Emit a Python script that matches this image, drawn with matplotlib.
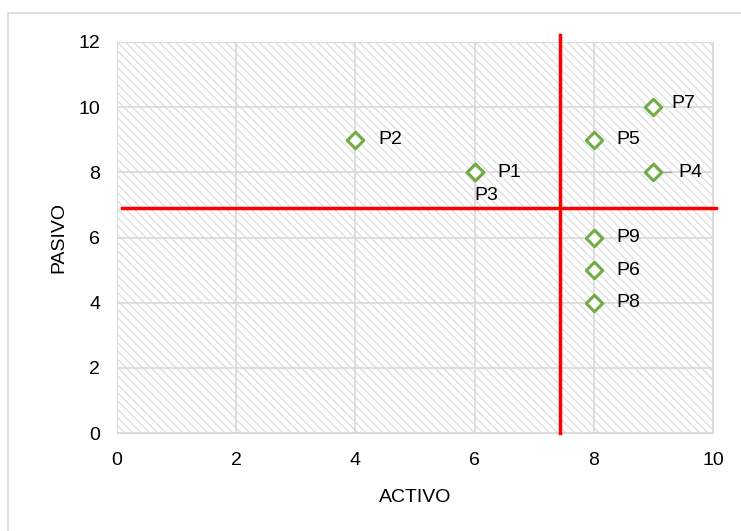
import matplotlib.pyplot as plt
from matplotlib.patches import Rectangle

plt.rcParams['font.family'] = ['Liberation Sans', 'DejaVu Sans']
plt.rcParams['hatch.color'] = '#e0e0e0'
plt.rcParams['hatch.linewidth'] = 1.0

# datos
activo = [6, 4, 6, 9, 8, 8, 9, 8, 8]
pasivo = [8, 9, 8, 8, 9, 5, 10, 4, 6]
etiquetas = ['P1', 'P2', 'P3', 'P4', 'P5', 'P6', 'P7', 'P8', 'P9']
corte_x = 7.43
corte_y = 6.9

fig = plt.figure(figsize=(7.41, 5.31), dpi=100)
# marco del grafico
fig.patches.append(Rectangle((8 / 741, -0.1), 1.1, 1 - 13 / 531 + 0.1, transform=fig.transFigure,
                             fill=False, edgecolor='#d9d9d9', linewidth=1.2))
ax = fig.add_axes([117 / 741, 1 - 433 / 531, 596 / 741, 391 / 531])

ax.add_patch(Rectangle((0, 0), 10, 12, facecolor='white', hatch='\\\\\\\\',
                       edgecolor='#e0e0e0', linewidth=0, zorder=0))
ax.set_xlim(0, 10)
ax.set_ylim(0, 12)
ax.set_xticks(range(0, 11, 2))
ax.set_yticks(range(0, 13, 2))
ax.grid(True, color='#d9d9d9', linewidth=1.2, zorder=1)
ax.set_axisbelow(True)
for s in ax.spines.values():
    s.set_color('#d9d9d9')
ax.tick_params(length=0, labelsize=14)
ax.tick_params(axis='x', pad=14)
ax.tick_params(axis='y', pad=12)

ax.scatter(activo, pasivo, marker='D', s=70, facecolor='white', edgecolor='#70ad47',
           linewidth=2.2, zorder=4)

offsets = {'P3': (0.0, -0.72), 'P4': (0.42, 0.0), 'P7': (0.3, 0.1)}
for x, y, t in zip(activo, pasivo, etiquetas):
    dx, dy = offsets.get(t, (0.38, 0.0))
    ax.text(x + dx, y + dy, t, fontsize=14, va='center', ha='left', zorder=5)
# linea guia de P4
ax.plot([9, 9.3], [8, 8], color='#a6a6a6', linewidth=1, zorder=3)

ax.plot([corte_x, corte_x], [0, 12.2], color='#ff0000', linewidth=2.5, clip_on=False, zorder=3)
ax.plot([0.08, 10.05], [corte_y, corte_y], color='#ff0000', linewidth=2.5, clip_on=False, zorder=3)

ax.set_xlabel('ACTIVO', fontsize=14, labelpad=14)
ax.set_ylabel('PASIVO', fontsize=14, labelpad=8)

fig.savefig('out.png', dpi=100)
